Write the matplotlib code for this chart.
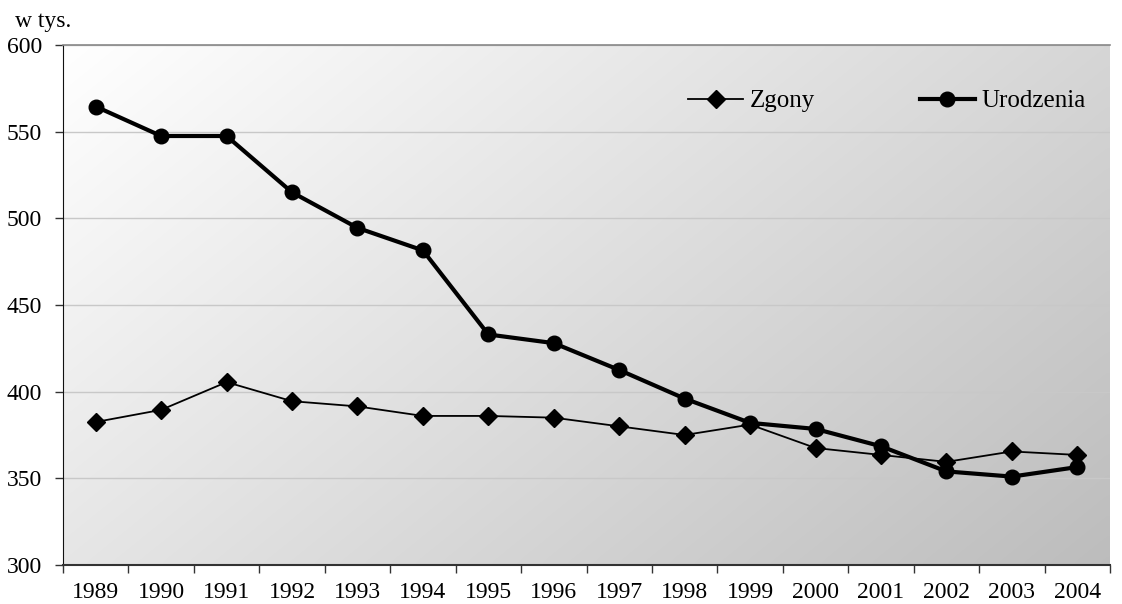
import matplotlib
matplotlib.use("Agg")
import matplotlib.pyplot as plt
import numpy as np

years = ["1989", "1990", "1991", "1992", "1993", "1994", "1995", "1996",
         "1997", "1998", "1999", "2000", "2001", "2002", "2003", "2004"]
zgony = [382.5, 389.5, 405.5, 394.5, 391.5, 386.0, 386.0, 385.0,
         380.0, 375.0, 381.0, 367.5, 363.5, 359.5, 365.5, 363.5]
urodzenia = [564.5, 547.5, 547.5, 515.0, 494.5, 481.5, 433.0, 428.0,
             412.5, 396.0, 382.0, 378.5, 368.5, 354.0, 351.0, 356.5]
yticks = [300, 350, 400, 450, 500, 550, 600]

plt.rcParams['font.family'] = ['Liberation Serif', 'DejaVu Serif']

fig = plt.figure(figsize=(11.22, 6.04), dpi=100)
ax = fig.add_axes([63/1122, 1-565/604, (1110-63)/1122, (565-45)/604])

# gradient background (white top-left -> gray bottom-right)
nx, ny = 200, 100
gx = np.linspace(0, 1, nx)
gy = np.linspace(0, 1, ny)
GX, GY = np.meshgrid(gx, gy)
t = (GX * 0.62 + GY * 0.38)
top = np.array([1.0, 1.0, 1.0])
bot = np.array([0.74, 0.74, 0.74])
img = top[None, None, :] * (1 - t[..., None]) + bot[None, None, :] * t[..., None]
ax.imshow(img, extent=[0, 1, 0, 1], transform=ax.transAxes, aspect='auto',
          zorder=0, interpolation='bicubic')

x = np.arange(len(years))
ax.plot(x, zgony, color='black', lw=1.3, marker='D', ms=9.5, zorder=3,
        label='Zgony')
ax.plot(x, urodzenia, color='black', lw=3.0, marker='o', ms=10.5, zorder=4,
        label='Urodzenia')

ax.set_xlim(-0.5, len(years) - 0.5)
ax.set_ylim(300, 600)
ax.set_yticks(yticks)
ax.set_yticklabels([str(v) for v in yticks])
ax.yaxis.grid(True, color='#c8c8c8', lw=1.0, zorder=1)
ax.set_axisbelow(True)

ax.set_xticks(np.arange(-0.5, len(years)), minor=False)
ax.set_xticklabels([])
ax.set_xticks(x, minor=True)
ax.set_xticklabels(years, minor=True)
ax.tick_params(axis='x', which='major', direction='out', length=6, width=1, color='#333333')
ax.tick_params(axis='x', which='minor', length=0, pad=12, labelsize=17)
ax.tick_params(axis='y', direction='out', length=6, width=1, pad=9,
               labelsize=17, color='#333333')

ax.spines['right'].set_visible(False)
ax.spines['top'].set_color('#888888')
ax.spines['top'].set_linewidth(1.2)
ax.spines['left'].set_color('#111111')
ax.spines['bottom'].set_color('#333333')
ax.spines['bottom'].set_linewidth(1.5)

fig.text(15/1122, 1-21/604, 'w tys.', fontsize=17, va='center', ha='left')

leg = ax.legend(loc='upper right', bbox_to_anchor=(0.998, 0.957), ncol=2, frameon=False,
                fontsize=18, handlelength=2.2, handletextpad=0.25,
                columnspacing=4.2, borderaxespad=0.5)

fig.savefig('out.png', dpi=100)
